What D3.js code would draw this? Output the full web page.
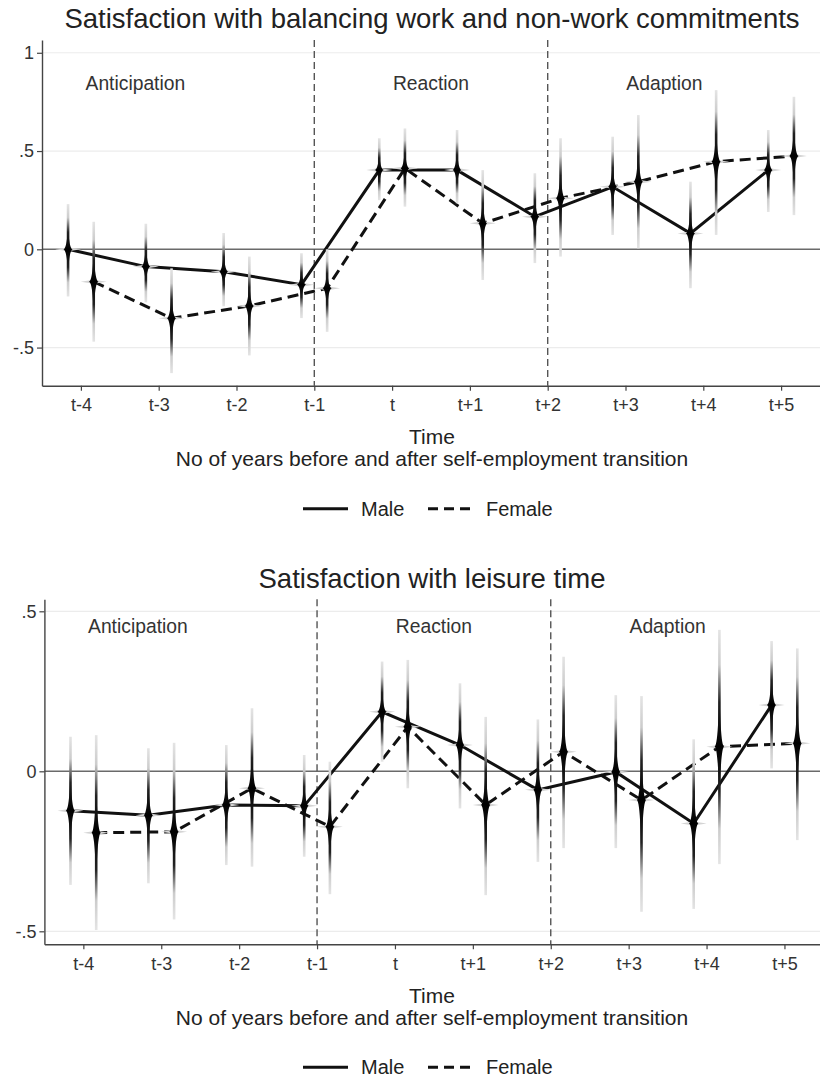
<!DOCTYPE html>
<html>
<head>
<meta charset="utf-8">
<script src="https://cdn.jsdelivr.net/npm/d3@7"></script>
<style>
  body { margin: 0; background: #fff; }
  svg { display: block; font-family: "Liberation Sans", Arial, Helvetica, sans-serif; }
</style>
</head>
<body>
<script>
const periods = ['t-4', 't-3', 't-2', 't-1', 't', 't+1', 't+2', 't+3', 't+4', 't+5']

// balancing work and non-work commitments
const workMale     = [0.00, -0.088, -0.114, -0.18, 0.403, 0.403, 0.166, 0.318, 0.081, 0.403]
const workMaleLo   = [-0.24, -0.27, -0.29, -0.35, 0.25, 0.234, -0.07, 0.073, -0.198, 0.19]
const workMaleHi   = [0.23, 0.13, 0.083, -0.02, 0.565, 0.607, 0.387, 0.573, 0.344, 0.607]
const workFemale   = [-0.165, -0.351, -0.288, -0.198, 0.412, 0.132, 0.26, 0.344, 0.446, 0.475]
const workFemaleLo = [-0.47, -0.63, -0.54, -0.42, 0.217, -0.156, -0.037, 0.005, 0.073, 0.174]
const workFemaleHi = [0.14, -0.097, -0.037, 0.0, 0.615, 0.403, 0.565, 0.683, 0.81, 0.776]

// leisure time
const leisureMale     = [-0.123, -0.137, -0.105, -0.108, 0.186, 0.082, -0.058, -0.002, -0.163, 0.207]
const leisureMaleLo   = [-0.355, -0.35, -0.293, -0.267, 0.03, -0.116, -0.283, -0.24, -0.43, 0.009]
const leisureMaleHi   = [0.108, 0.072, 0.082, 0.051, 0.343, 0.275, 0.162, 0.238, 0.1, 0.407]
const leisureFemale   = [-0.192, -0.189, -0.053, -0.173, 0.139, -0.105, 0.061, -0.09, 0.077, 0.0875]
const leisureFemaleLo = [-0.496, -0.463, -0.298, -0.384, -0.053, -0.387, -0.24, -0.439, -0.29, -0.215]
const leisureFemaleHi = [0.113, 0.089, 0.197, 0.03, 0.348, 0.17, 0.358, 0.235, 0.442, 0.384]

const phases = ['Anticipation', 'Reaction', 'Adaption']
const phaseAt = [0.7, 4.5, 7.5]
const phaseBreaks = [3, 6]
const seriesNames = ['Male', 'Female']

const w = 820
const h = 1077
const svg = d3.select('body').append('svg').attr('width', w).attr('height', h)
const defs = svg.append('defs')
let gid = 0

const fmt = d => d === 0 ? '0' : String(d).replace('0.', '.')

function panel(o) {
  const g = svg.append('g')
  const x = d3.scaleLinear().domain([-0.5, 9.5]).range([o.left, o.right])
  const y = d3.scaleLinear().domain(o.yDomain).range([o.bottom, o.top])

  g.append('text')
    .attr('x', 432).attr('y', o.titleY)
    .attr('text-anchor', 'middle')
    .attr('font-size', 27.5).attr('fill', '#222')
    .text(o.title)

  // grid
  g.selectAll('.grid').data(o.yTicks.filter(d => d !== 0)).enter()
    .append('line')
    .attr('x1', o.left).attr('x2', o.right)
    .attr('y1', d => y(d)).attr('y2', d => y(d))
    .attr('stroke', '#ececec').attr('stroke-width', 1.2)

  // zero line
  g.append('line')
    .attr('x1', o.left).attr('x2', o.right)
    .attr('y1', y(0)).attr('y2', y(0))
    .attr('stroke', '#6a6a6a').attr('stroke-width', 1.5)

  // phase separators
  g.selectAll('.brk').data(phaseBreaks).enter()
    .append('line')
    .attr('x1', d => x(d)).attr('x2', d => x(d))
    .attr('y1', o.top).attr('y2', o.bottom)
    .attr('stroke', '#555').attr('stroke-width', 1.4)
    .attr('stroke-dasharray', '7,4')

  g.selectAll('.phase').data(phases).enter()
    .append('text')
    .attr('x', (d, i) => x(phaseAt[i]))
    .attr('y', y(o.phaseY))
    .attr('dy', '0.35em')
    .attr('text-anchor', 'middle')
    .attr('font-size', 19.3).attr('fill', '#333')
    .text(d => d)

  // axes
  const ya = g.append('g').attr('transform', `translate(${o.left},0)`)
    .call(d3.axisLeft(y).tickValues(o.yTicks).tickFormat(fmt).tickSize(5).tickSizeOuter(0).tickPadding(3))
  const xa = g.append('g').attr('transform', `translate(0,${o.bottom})`)
    .call(d3.axisBottom(x).tickValues(d3.range(10)).tickFormat(i => periods[i]).tickSize(5).tickSizeOuter(0).tickPadding(8))
  ;[ya, xa].forEach(a => {
    a.select('.domain').attr('stroke', '#444').attr('stroke-width', 1.4)
    a.selectAll('.tick line').attr('stroke', '#444').attr('stroke-width', 1.2)
    a.selectAll('text').attr('font-size', 18).attr('fill', '#333').attr('font-family', null)
  })

  const series = [
    { name: 'Male', v: o.male, lo: o.maleLo, hi: o.maleHi, off: -0.165, dash: null },
    { name: 'Female', v: o.female, lo: o.femaleLo, hi: o.femaleHi, off: 0.165, dash: '11,6' }
  ]

  const line = d3.line().x(d => x(d.i)).y(d => y(d.v))
  series.forEach(s => {
    const pts = s.v.map((v, i) => ({ i: i + s.off, v: v }))
    g.append('path').datum(pts)
      .attr('d', line)
      .attr('fill', 'none').attr('stroke', '#111').attr('stroke-width', 3)
      .attr('stroke-dasharray', s.dash)
  })

  // spike markers with fading CIs
  series.forEach(s => {
    s.v.forEach((v, i) => {
      const cx = x(i + s.off)
      const cy = y(v)
      const top = y(s.hi[i])
      const bot = y(s.lo[i])
      const p = (cy - top) / (bot - top)
      const id = 'gr' + (gid++)
      const gr = defs.append('linearGradient').attr('id', id)
        .attr('gradientUnits', 'userSpaceOnUse')
        .attr('x1', cx).attr('x2', cx).attr('y1', top).attr('y2', bot)
      ;[[0, '#e4e4e4'], [p * 0.3, '#cccccc'], [p * 0.62, '#222'], [p, '#000'],
        [p + (1 - p) * 0.38, '#222'], [p + (1 - p) * 0.7, '#cccccc'], [1, '#e4e4e4']]
        .forEach(st => gr.append('stop').attr('offset', st[0]).attr('stop-color', st[1]))

      // faint horizontal spike
      g.append('path')
        .attr('d', `M${cx - 13},${cy} L${cx},${cy - 2} L${cx + 13},${cy} L${cx},${cy + 2}Z`)
        .attr('fill', '#d4d4d4')
      // thin CI line
      g.append('rect')
        .attr('x', cx - 1.3).attr('width', 2.6)
        .attr('y', top).attr('height', bot - top)
        .attr('fill', `url(#${id})`)
      // dark tapered spike
      const ht = (cy - top) * 0.75
      const hb = (bot - cy) * 0.75
      const hw = 4.8
      g.append('path')
        .attr('d', `M${cx},${cy - ht} C${cx},${cy - ht * 0.3} ${cx + hw * 0.45},${cy} ${cx + hw},${cy}` +
          ` C${cx + hw * 0.45},${cy} ${cx},${cy + hb * 0.3} ${cx},${cy + hb}` +
          ` C${cx},${cy + hb * 0.3} ${cx - hw * 0.45},${cy} ${cx - hw},${cy}` +
          ` C${cx - hw * 0.45},${cy} ${cx},${cy - ht * 0.3} ${cx},${cy - ht}Z`)
        .attr('fill', `url(#${id})`)
    })
  })

  g.append('text')
    .attr('x', 432).attr('y', o.bottom + 51).attr('dy', '0.35em')
    .attr('text-anchor', 'middle').attr('font-size', 21).attr('fill', '#222')
    .text('Time')
  g.append('text')
    .attr('x', 432).attr('y', o.bottom + 73).attr('dy', '0.35em')
    .attr('text-anchor', 'middle').attr('font-size', 21).attr('fill', '#222')
    .text('No of years before and after self-employment transition')

  // legend
  const ly = o.bottom + 123
  const lg = g.append('g')
  const lx = [303, 428]
  seriesNames.forEach((n, i) => {
    lg.append('line')
      .attr('x1', lx[i]).attr('x2', lx[i] + 45)
      .attr('y1', ly).attr('y2', ly)
      .attr('stroke', '#111').attr('stroke-width', 3)
      .attr('stroke-dasharray', i === 1 ? '10,6' : null)
    lg.append('text')
      .attr('x', lx[i] + 58).attr('y', ly).attr('dy', '0.35em')
      .attr('font-size', 20).attr('fill', '#222')
      .text(n)
  })
}

panel({
  title: 'Satisfaction with balancing work and non-work commitments',
  titleY: 28,
  left: 42, right: 820, top: 40, bottom: 385.7,
  yDomain: [-0.694, 1.065], yTicks: [-0.5, 0, 0.5, 1], phaseY: 0.846,
  male: workMale, maleLo: workMaleLo, maleHi: workMaleHi,
  female: workFemale, femaleLo: workFemaleLo, femaleHi: workFemaleHi
})

panel({
  title: 'Satisfaction with leisure time',
  titleY: 588,
  left: 44.4, right: 823.4, top: 599.3, bottom: 944.3,
  yDomain: [-0.5406, 0.5375], yTicks: [-0.5, 0, 0.5], phaseY: 0.452,
  male: leisureMale, maleLo: leisureMaleLo, maleHi: leisureMaleHi,
  female: leisureFemale, femaleLo: leisureFemaleLo, femaleHi: leisureFemaleHi
})
</script>
</body>
</html>
